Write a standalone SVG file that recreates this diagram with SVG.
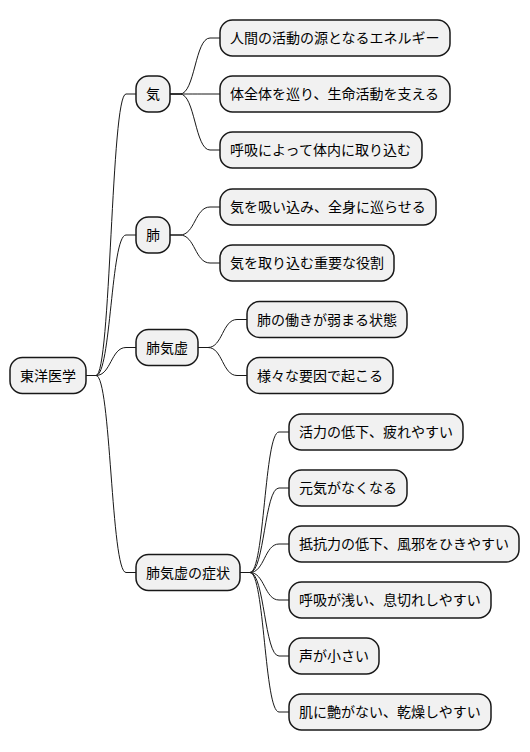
<svg xmlns="http://www.w3.org/2000/svg" width="530" height="752" viewBox="0 0 530 752">
<style>
.n rect{fill:#F1F1F1;stroke:#181818;stroke-width:1.5}
.n text{font-family:"Noto Sans CJK JP","Noto Sans",sans-serif;font-size:14px;fill:#000}
.c path{fill:none;stroke:#181818;stroke-width:1}
</style>
<rect width="530" height="752" fill="#FFFFFF"/>
<g class="c">
<path d="M86,375.5 L96,375.5 C111,375.5 111,94 126,94 L136,94"/>
<path d="M86,375.5 L96,375.5 C111,375.5 111,235 126,235 L136,235"/>
<path d="M86,375.5 L96,375.5 C111,375.5 111,347.5 126,347.5 L136,347.5"/>
<path d="M86,375.5 L96,375.5 C111,375.5 111,572.5 126,572.5 L136,572.5"/>
<path d="M170,94 L180,94 C195,94 195,38 210,38 L220,38"/>
<path d="M170,94 L180,94 C195,94 195,94 210,94 L220,94"/>
<path d="M170,94 L180,94 C195,94 195,150 210,150 L220,150"/>
<path d="M170,235 L180,235 C195,235 195,207 210,207 L220,207"/>
<path d="M170,235 L180,235 C195,235 195,263 210,263 L220,263"/>
<path d="M198,347.5 L208,347.5 C222.5,347.5 222.5,319.5 237,319.5 L247,319.5"/>
<path d="M198,347.5 L208,347.5 C222.5,347.5 222.5,375.5 237,375.5 L247,375.5"/>
<path d="M240,572.5 L250,572.5 C264.5,572.5 264.5,432 279,432 L289,432"/>
<path d="M240,572.5 L250,572.5 C264.5,572.5 264.5,488 279,488 L289,488"/>
<path d="M240,572.5 L250,572.5 C264.5,572.5 264.5,544 279,544 L289,544"/>
<path d="M240,572.5 L250,572.5 C264.5,572.5 264.5,600 279,600 L289,600"/>
<path d="M240,572.5 L250,572.5 C264.5,572.5 264.5,656 279,656 L289,656"/>
<path d="M240,572.5 L250,572.5 C264.5,572.5 264.5,712 279,712 L289,712"/>
</g>
<g id="root" class="n"><rect x="10" y="357.5" width="76" height="36" rx="12.5"/><text x="20" y="380.5">東洋医学</text></g>
<g id="ki" class="n"><rect x="136" y="76" width="34" height="36" rx="12.5"/><text x="146" y="99">気</text></g>
<g id="ki1" class="n"><rect x="220" y="20" width="230" height="36" rx="12.5"/><text x="230" y="43">人間の活動の源となるエネルギー</text></g>
<g id="ki2" class="n"><rect x="220" y="76" width="230" height="36" rx="12.5"/><text x="230" y="99">体全体を巡り、生命活動を支える</text></g>
<g id="ki3" class="n"><rect x="220" y="132" width="202" height="36" rx="12.5"/><text x="230" y="155">呼吸によって体内に取り込む</text></g>
<g id="hai" class="n"><rect x="136" y="217" width="34" height="36" rx="12.5"/><text x="146" y="240">肺</text></g>
<g id="hai1" class="n"><rect x="220" y="189" width="216" height="36" rx="12.5"/><text x="230" y="212">気を吸い込み、全身に巡らせる</text></g>
<g id="hai2" class="n"><rect x="220" y="245" width="174" height="36" rx="12.5"/><text x="230" y="268">気を取り込む重要な役割</text></g>
<g id="haikikyo" class="n"><rect x="136" y="329.5" width="62" height="36" rx="12.5"/><text x="146" y="352.5">肺気虚</text></g>
<g id="hk1" class="n"><rect x="247" y="301.5" width="160" height="36" rx="12.5"/><text x="257" y="324.5">肺の働きが弱まる状態</text></g>
<g id="hk2" class="n"><rect x="247" y="357.5" width="146" height="36" rx="12.5"/><text x="257" y="380.5">様々な要因で起こる</text></g>
<g id="shojo" class="n"><rect x="136" y="554.5" width="104" height="36" rx="12.5"/><text x="146" y="577.5">肺気虚の症状</text></g>
<g id="s1" class="n"><rect x="289" y="414" width="174" height="36" rx="12.5"/><text x="299" y="437">活力の低下、疲れやすい</text></g>
<g id="s2" class="n"><rect x="289" y="470" width="118" height="36" rx="12.5"/><text x="299" y="493">元気がなくなる</text></g>
<g id="s3" class="n"><rect x="289" y="526" width="230" height="36" rx="12.5"/><text x="299" y="549">抵抗力の低下、風邪をひきやすい</text></g>
<g id="s4" class="n"><rect x="289" y="582" width="202" height="36" rx="12.5"/><text x="299" y="605">呼吸が浅い、息切れしやすい</text></g>
<g id="s5" class="n"><rect x="289" y="638" width="90" height="36" rx="12.5"/><text x="299" y="661">声が小さい</text></g>
<g id="s6" class="n"><rect x="289" y="694" width="202" height="36" rx="12.5"/><text x="299" y="717">肌に艶がない、乾燥しやすい</text></g>
</svg>
